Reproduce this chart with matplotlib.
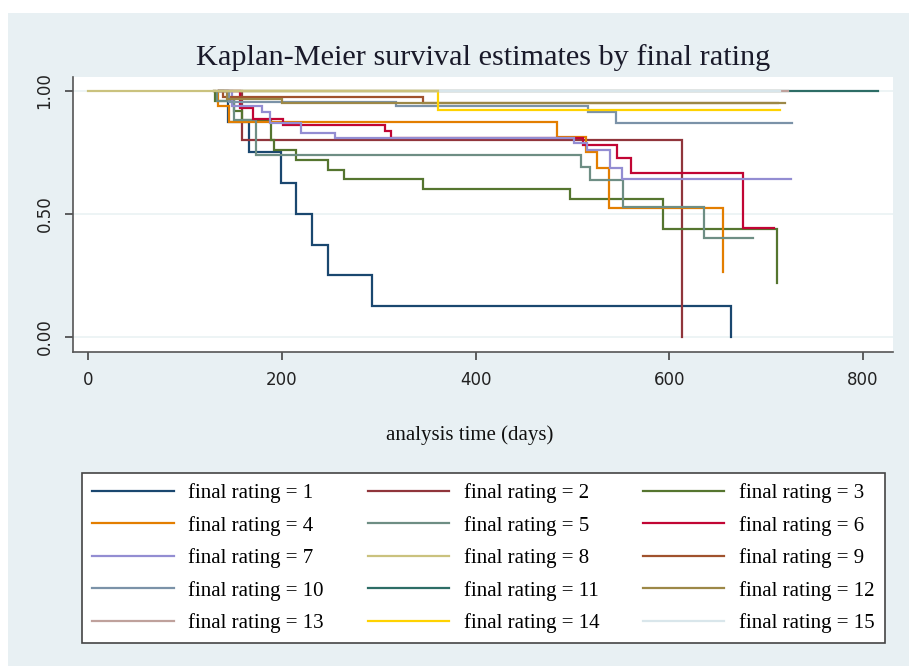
import numpy as np
import matplotlib
matplotlib.use("Agg")
from matplotlib import pyplot as plt
from matplotlib.patches import Rectangle

# step points: time (days) where S(t) changes, and S(t) after it
t1 = [135, 144, 166, 199, 214, 231, 248, 293, 664]
s1 = [1, .875, .75, .625, .5, .375, .25, .125, 0]
t2 = [135, 159, 613]
s2 = [1, .8, 0]
t3 = [130, 131, 150, 159, 189, 192, 214, 248, 264, 346, 497, 593, 711]
s3 = [1, .96, .92, .88, .80, .76, .72, .68, .64, .60, .56, .44, .22]
t4 = [130, 134, 145, 484, 514, 525, 538, 655]
s4 = [1, .9375, .875, .8125, .75, .6875, .525, .262]
t5 = [130, 133, 150, 173, 509, 518, 552, 636, 686]
s5 = [1, .96, .88, .74, .69, .638, .529, .40, .40]
t6 = [135, 157, 170, 201, 306, 313, 511, 546, 560, 676, 708]
s6 = [1, .93, .885, .86, .837, .81, .78, .726, .667, .444, .444]
t7 = [135, 148, 179, 188, 220, 255, 501, 515, 539, 551, 726]
s7 = [1, .94, .915, .87, .83, .807, .787, .76, .685, .64, .64]
t8 = [0, 361]
s8 = [1, 1]
t9 = [135, 139, 346, 712]
s9 = [1, .977, .952, .952]
t10 = [135, 145, 318, 516, 545, 727]
s10 = [1, .957, .94, .916, .871, .871]
t11 = [135, 815]
s11 = [1, 1]
t12 = [135, 143, 200, 719]
s12 = [1, .966, .95, .95]
t13 = [135, 722]
s13 = [1, 1]
t14 = [135, 361, 714]
s14 = [1, .922, .922]
t15 = [135, 714]
s15 = [1, 1]

times = [t1, t2, t3, t4, t5, t6, t7, t8, t9, t10, t11, t12, t13, t14, t15]
surv = [s1, s2, s3, s4, s5, s6, s7, s8, s9, s10, s11, s12, s13, s14, s15]
ratings = list(range(1, 16))

# stata s2color palette
colors = ['#1a476f', '#90353b', '#55752f', '#e37e00', '#6e8e84',
          '#c10534', '#938dd2', '#cac27e', '#a0522d', '#7b92a8',
          '#2d6d66', '#9c8847', '#bfa19c', '#ffd200', '#d9e6eb']

W, H = 909, 666
fig = plt.figure(figsize=(W / 100, H / 100), dpi=100)
fig.patch.set_facecolor('white')
fig.patches.append(Rectangle((8 / W, 0), 1 - 8 / W, 1 - 13 / H, transform=fig.transFigure,
                             facecolor='#e8f0f3', edgecolor='none', zorder=-5))

ax = fig.add_axes([73 / W, 1 - 352 / H, (893 - 73) / W, (352 - 77) / H])
ax.set_facecolor('white')
ax.set_zorder(1)

handles = []
for i, (t, s) in enumerate(zip(times, surv)):
    z = 10 if ratings[i] == 8 else 2 + i * 0.1
    h, = ax.plot(t, s, drawstyle='steps-post', color=colors[i], lw=1.6, zorder=z,
                 solid_joinstyle='miter')
    handles.append(h)

ax.set_xlim(-15.8, 830.9)
ax.set_ylim(-0.062, 1.057)
ax.set_xticks([0, 200, 400, 600, 800])
ax.set_yticks([0, 0.5, 1])
ax.set_yticklabels(['0.00', '0.50', '1.00'], rotation=90, va='center')
for y in [0, 0.5, 1]:
    ax.axhline(y, color='#eaf2f3', lw=1.2, zorder=1)

for side in ['top', 'right']:
    ax.spines[side].set_visible(False)
for side in ['left', 'bottom']:
    ax.spines[side].set_color('#555555')
    ax.spines[side].set_linewidth(1.2)
ax.tick_params(direction='out', length=6, width=1.2, color='#444444', labelsize=12,
               labelcolor='#222222', pad=8)
for lab in ax.get_xticklabels() + ax.get_yticklabels():
    lab.set_family('DejaVu Sans')

ax.set_xlabel('analysis time (days)', family='Liberation Serif', fontsize=15, color='#111111')
ax.xaxis.set_label_coords((470 - 73) / 820, (352 - 425) / 275)

fig.text(483 / W, 1 - 58 / H, 'Kaplan-Meier survival estimates by final rating',
         family='Liberation Serif', fontsize=21.8, color='#1a1a2a', ha='center', va='center')

labels = ['final rating = %d' % r for r in ratings]
# stata fills the legend row by row, matplotlib column by column
order = [r * 3 + c for c in range(3) for r in range(5)]
leg = fig.legend([handles[k] for k in order], [labels[k] for k in order], ncol=3, loc='upper left',
                 bbox_to_anchor=(82 / W, 1 - 473 / H, (885 - 82) / W, 0),
                 mode='expand', frameon=True, fancybox=False, edgecolor='#444444',
                 facecolor='white', framealpha=1, borderaxespad=0,
                 prop={'family': 'Liberation Serif', 'size': 15},
                 handlelength=3.9, handletextpad=0.7, labelspacing=0.6, borderpad=0.5)
leg.get_frame().set_linewidth(1.2)
for line in leg.get_lines():
    line.set_linewidth(1.6)

fig.savefig('out.png', dpi=100)
